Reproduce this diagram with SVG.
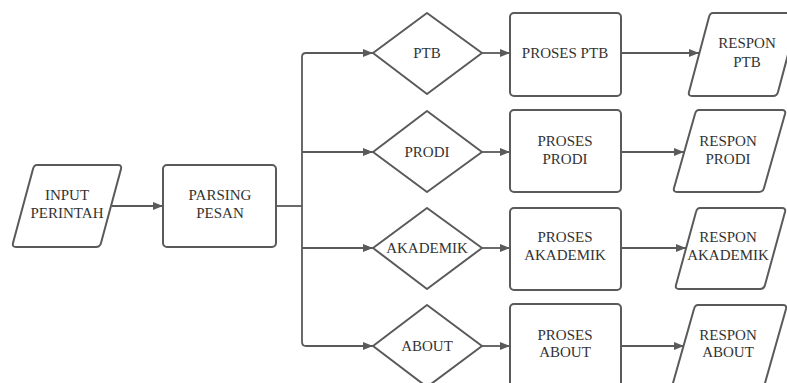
<svg xmlns="http://www.w3.org/2000/svg" width="787" height="383" viewBox="0 0 787 383">
<style>
.s{fill:#fff;stroke:#5a5a5a;stroke-width:2;stroke-linejoin:round}
.c{fill:none;stroke:#5a5a5a;stroke-width:1.8}
.t{font-family:"Liberation Serif","DejaVu Serif","Times New Roman",serif;font-size:15px;fill:#333;text-anchor:middle}
</style>
<defs>
<marker id="a" viewBox="0 0 10 8" refX="10" refY="4" markerWidth="10" markerHeight="8" markerUnits="userSpaceOnUse" orient="auto">
<path d="M0,0 L10,4 L0,8 Z" fill="#5a5a5a"/>
</marker>
</defs>
<rect width="787" height="383" fill="#fff"/>
<g id="connectors">
<path class="c" d="M112,206 H163" marker-end="url(#a)"/>
<path class="c" d="M276,206 H302"/>
<path class="c" d="M373,53 H306 Q302,53 302,57 V342 Q302,346 306,346 H373" marker-end="url(#a)"/>
<path class="c" d="M302,152 H373" marker-end="url(#a)"/>
<path class="c" d="M302,248 H373" marker-end="url(#a)"/>
<path class="c" d="M306,53 H373" marker-end="url(#a)"/>
<path class="c" d="M482,53 H510" marker-end="url(#a)"/>
<path class="c" d="M482,152 H510" marker-end="url(#a)"/>
<path class="c" d="M482,248 H510" marker-end="url(#a)"/>
<path class="c" d="M482,346 H510" marker-end="url(#a)"/>
<path class="c" d="M621,53 H699" marker-end="url(#a)"/>
<path class="c" d="M621,152 H684" marker-end="url(#a)"/>
<path class="c" d="M621,248 H686" marker-end="url(#a)"/>
<path class="c" d="M621,346 H684" marker-end="url(#a)"/>
</g>
<g id="input">
<path class="s" d="M37,165 H118 Q122,165 121,169 L101,243 Q100,247 96,247 H16 Q12,247 13,243 L33,169 Q34,165 37,165 Z"/>
<text class="t" x="67" y="200">INPUT</text>
<text class="t" x="67" y="218">PERINTAH</text>
</g>
<g id="parsing">
<rect class="s" x="163" y="165" width="113" height="82" rx="4"/>
<text class="t" x="220" y="200">PARSING</text>
<text class="t" x="220" y="218">PESAN</text>
</g>
<g id="d-ptb">
<path class="s" d="M427,13 L482,53 L427,94 L373,53 Z"/>
<text class="t" x="427" y="58">PTB</text>
</g>
<g id="d-prodi">
<path class="s" d="M427,111 L482,152 L427,192 L373,152 Z"/>
<text class="t" x="427" y="157">PRODI</text>
</g>
<g id="d-akademik">
<path class="s" d="M427,208 L482,248 L427,289 L373,248 Z"/>
<text class="t" x="427" y="253">AKADEMIK</text>
</g>
<g id="d-about">
<path class="s" d="M427,305 L482,346 L427,387 L373,346 Z"/>
<text class="t" x="427" y="351">ABOUT</text>
</g>
<g id="p-ptb">
<rect class="s" x="510" y="13" width="111" height="83" rx="4"/>
<text class="t" x="565" y="58">PROSES PTB</text>
</g>
<g id="p-prodi">
<rect class="s" x="510" y="110" width="111" height="82" rx="4"/>
<text class="t" x="565" y="146">PROSES</text>
<text class="t" x="565" y="164">PRODI</text>
</g>
<g id="p-akademik">
<rect class="s" x="510" y="208" width="111" height="82" rx="4"/>
<text class="t" x="565" y="242">PROSES</text>
<text class="t" x="565" y="260">AKADEMIK</text>
</g>
<g id="p-about">
<rect class="s" x="510" y="304" width="111" height="90" rx="4"/>
<text class="t" x="565" y="340">PROSES</text>
<text class="t" x="565" y="357">ABOUT</text>
</g>
<g id="r-ptb">
<path class="s" d="M713,13 H795 Q799,13 798,17 L778,92 Q777,96 773,96 H692 Q688,96 689,92 L709,17 Q710,13 713,13 Z"/>
<text class="t" x="747" y="48">RESPON</text>
<text class="t" x="747" y="67">PTB</text>
</g>
<g id="r-prodi">
<path class="s" d="M699,110 H782 Q786,110 785,114 L764,188 Q763,192 759,192 H677 Q673,192 674,188 L695,114 Q696,110 699,110 Z"/>
<text class="t" x="728" y="146">RESPON</text>
<text class="t" x="728" y="164">PRODI</text>
</g>
<g id="r-akademik">
<path class="s" d="M700,208 H782 Q786,208 785,212 L765,285 Q764,289 760,289 H679 Q675,289 676,285 L696,212 Q697,208 700,208 Z"/>
<text class="t" x="728" y="242">RESPON</text>
<text class="t" x="728" y="260">AKADEMIK</text>
</g>
<g id="r-about">
<path class="s" d="M698,305 H783 Q787,305 786,309 L765,383 Q764,387 760,387 H676 Q672,387 673,383 L694,309 Q695,305 698,305 Z"/>
<text class="t" x="728" y="340">RESPON</text>
<text class="t" x="728" y="357">ABOUT</text>
</g>
</svg>
